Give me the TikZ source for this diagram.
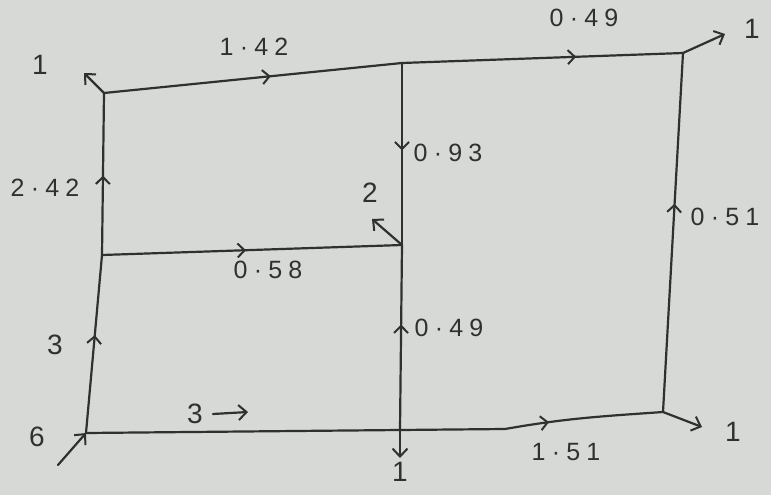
\documentclass[tikz,border=0pt]{standalone}
\usepackage{fontspec}
\setmainfont{Liberation Sans}
\usetikzlibrary{arrows.meta,decorations.markings}
\definecolor{paper}{RGB}{214,217,214}
\definecolor{ink}{RGB}{48,48,48}
\tikzset{
  wire/.style={draw=ink,line width=2.2pt,line cap=round,line join=round},
  midarrow/.style={postaction={decorate,decoration={markings,
      mark=at position #1 with {\arrow{Straight Barb[length=7pt,width=14pt,line width=2pt]}}}}},
  outarrow/.style={draw=ink,line width=2.2pt,line cap=round,-{Straight Barb[length=8pt,width=15pt,line width=2pt]}},
  lbl/.style={text=ink,font=\fontsize{25}{28}\selectfont\addfontfeature{LetterSpace=25},inner sep=1pt},
  biglbl/.style={text=ink,font=\fontsize{28}{31}\selectfont,inner sep=1pt}
}
\begin{document}
\begin{tikzpicture}[x=1pt,y=-1pt]
\fill[paper] (0,0) rectangle (771,495);
\useasboundingbox (0,0) rectangle (771,495);
% junctions
\coordinate (TL) at (104,93);
\coordinate (TM) at (402,63);
\coordinate (TR) at (683,53);
\coordinate (ML) at (102,255);
\coordinate (MM) at (402,245);
\coordinate (BL) at (86,433);
\coordinate (BM) at (400,430);
\coordinate (BK) at (505,429);
\coordinate (BR) at (663,412);
% external ends
\coordinate (inBL) at (58,465);
\coordinate (outTL) at (84,73);
\coordinate (outTR) at (725,34);
\coordinate (outMM) at (372,219);
\coordinate (outBM) at (400,458);
\coordinate (outBR) at (702,427);
% wires
\draw[wire,midarrow=0.56] (TL) -- (TM);
\draw[wire,midarrow=0.62] (TM) -- (TR);
\draw[wire,midarrow=0.58] (BR) -- (TR);
\draw[wire,midarrow=0.48] (TM) -- (MM);
\draw[wire,midarrow=0.57] (BM) -- (MM);
\draw[wire,midarrow=0.48] (ML) -- (MM);
\draw[wire,midarrow=0.55] (BL) -- (ML);
\draw[wire,midarrow=0.49] (ML) -- (TL);
\draw[wire] (BL) -- (BM) -- (BK);
\draw[wire,midarrow=0.28] (BK) to[out=10,in=184] (BR);
% external arrows
\draw[outarrow] (inBL) -- (BL);
\draw[outarrow] (TL) -- (outTL);
\draw[outarrow] (TR) -- (outTR);
\draw[outarrow] (MM) -- (outMM);
\draw[outarrow] (BM) -- (outBM);
\draw[outarrow] (BR) -- (outBR);
% "3 ->" arrow
\coordinate (sa) at (213,414);
\coordinate (sb) at (248,412);
\draw[outarrow] (sa) -- (sb);
% labels
\node[lbl] (l142) at (254,47) {1·42};
\node[lbl] (l049t) at (584,18) {0·49};
\node[lbl] (l093) at (448,153) {0·93};
\node[lbl] (l051) at (725,217) {0·51};
\node[lbl] (l242) at (45,188) {2·42};
\node[lbl] (l058) at (268,270) {0·58};
\node[lbl] (l049m) at (449,328) {0·49};
\node[lbl] (l151) at (566,452) {1·51};
\node[biglbl] (l1tl) at (40,65) {1};
\node[biglbl] (l1tr) at (752,29) {1};
\node[biglbl] (l2) at (370,193) {2};
\node[biglbl] (l3l) at (55,345) {3};
\node[biglbl] (l6) at (37,437) {6};
\node[biglbl] (l3b) at (195,414) {3};
\node[biglbl] (l1b) at (400,472) {1};
\node[biglbl] (l1br) at (733,432) {1};
\end{tikzpicture}
\end{document}
